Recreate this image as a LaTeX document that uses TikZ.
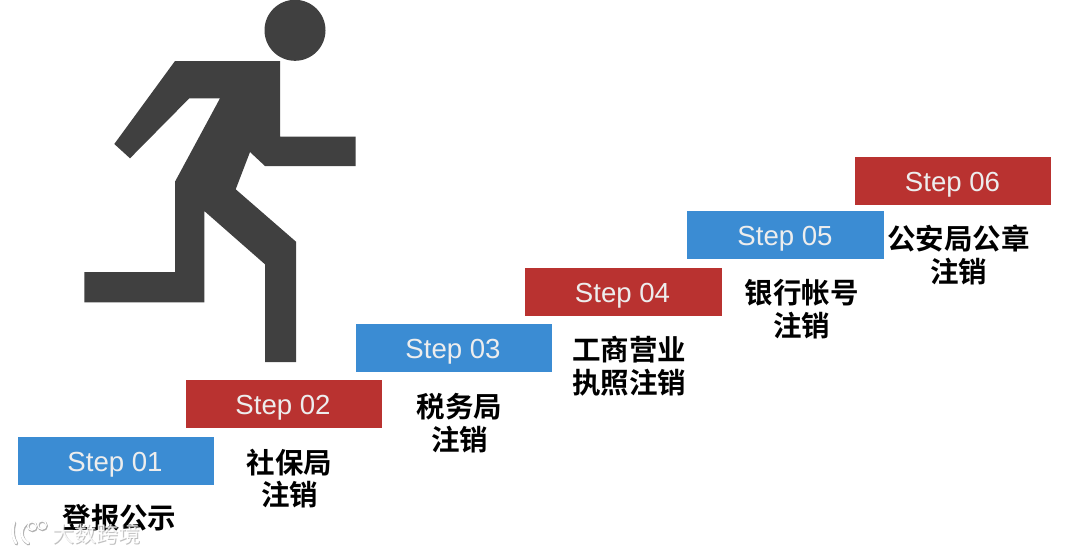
\documentclass[tikz,border=0pt]{standalone}
\usepackage{fontspec}
\setmainfont{Liberation Sans}
\newfontfamily\cjk{Noto Sans CJK SC Bold}
\newfontfamily\cjkw{Noto Sans CJK SC}
\definecolor{stepblue}{HTML}{3B8CD3}
\definecolor{stepred}{HTML}{B93230}
\definecolor{figure}{HTML}{404040}
\tikzset{
  stepbox/.style={minimum width=196.5pt,minimum height=48pt,inner sep=0pt,text height=25.7pt,text depth=5.4pt,text=white!93!black,font=\fontsize{27.6}{27.6}\selectfont},
  bluebox/.style={stepbox,fill=stepblue},
  redbox/.style={stepbox,fill=stepred},
  cap label/.style={align=center,inner sep=0pt,text=black,font=\cjk\fontsize{28.5}{32.6}\selectfont},
  wm/.style={inner sep=0pt,font=\cjkw\fontsize{22}{22}\selectfont},
}
\begin{document}
\begin{tikzpicture}[x=1pt,y=-1pt]
\useasboundingbox (0,0) rectangle (1080,552);
\fill[white] (0,0) rectangle (1080,552);
% runner
\fill[figure] (295,30.3) circle (30.5);
\fill[figure] (175,61)--(280,61)--(280,136.7)--(355.7,136.7)--(355.7,166)--(265,166)--(250,152)--(235.7,189.3)--(296,241.7)--(296,362)--(265,362)--(265,264.3)--(204.3,211)--(204.3,302.3)--(84.3,302.3)--(84.3,272)--(175,272)--(175,181.7)--(220,98.3)--(189.3,98.3)--(130,158.3)--(114.3,144)--cycle;
% steps
\node[bluebox] (s1) at (116,461) {\hspace*{-2pt}Step 01};
\node[redbox]  (s2) at (284,404) {\hspace*{-2pt}Step 02};
\node[bluebox] (s3) at (454,348) {\hspace*{-2pt}Step 03};
\node[redbox]  (s4) at (623.5,292) {\hspace*{-2pt}Step 04};
\node[bluebox] (s5) at (785.5,235) {\hspace*{-1pt}Step 05};
\node[redbox]  (s6) at (953,181) {\hspace*{-1pt}Step 06};
% labels
\node[cap label] (l1) at (119.5,518) {登报公示};
\node[cap label] (l2) at (289.5,478.5) {社保局\\注销};
\node[cap label] (l3) at (459.5,423) {税务局\\注销};
\node[cap label] (l4) at (629,366) {工商营业\\执照注销};
\node[cap label] (l5) at (801.5,309) {银行帐号\\注销};
\node[cap label] (l6) at (958.5,255) {公安局公章\\注销};
% watermark
\node[wm,text=black!45,opacity=.55] (w2) at (97.2,535) {大数跨境};
\node[wm,text=white,opacity=.85] (w1) at (96.5,534) {大数跨境};
\begin{scope}[line cap=round]
\draw[black!30,line width=3.2pt] (14.7,523) .. controls (12.7,530) and (12.7,538) .. (16.7,544);
\draw[black!30,line width=3.2pt] (28.7,523) .. controls (20.7,528) and (19.7,539) .. (28.7,544);
\draw[black!30,line width=2pt] (32.7,527) circle (4.2) (42.7,526) circle (4.2);
\draw[white,line width=2.4pt] (14,522) .. controls (12,529) and (12,537) .. (16,543);
\draw[white,line width=2.4pt] (28,522) .. controls (20,527) and (19,538) .. (28,543);
\draw[white,line width=1.3pt] (32,526) circle (4.2) (42,525) circle (4.2);
\end{scope}
\end{tikzpicture}
\end{document}
